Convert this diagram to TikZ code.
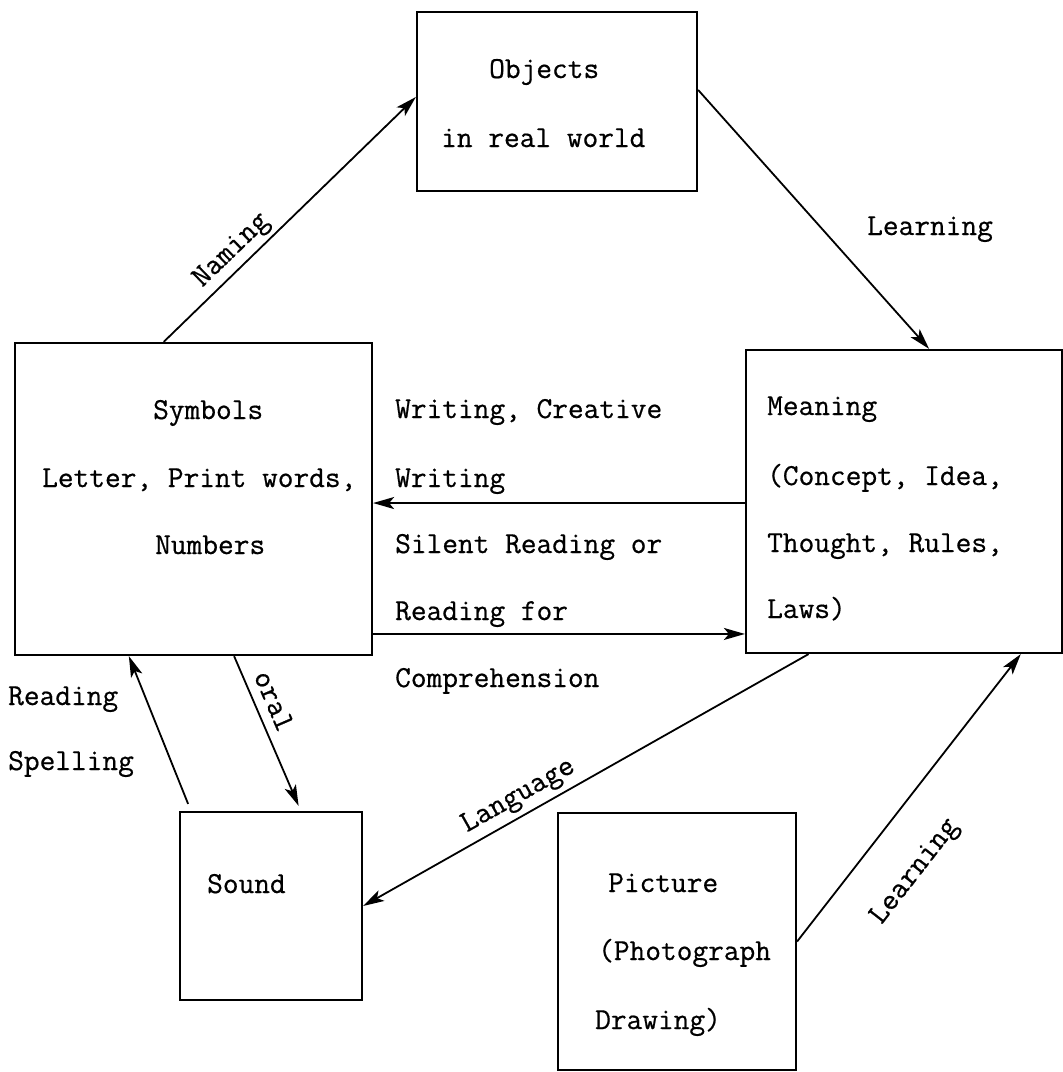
\documentclass[tikz,border=0pt]{standalone}
\usepackage{fontspec}
\setmonofont{Latin Modern Mono}[FakeBold=0.6]
\usetikzlibrary{calc,arrows.meta}
\begin{document}
\begin{tikzpicture}[x=1pt,y=-1pt,
  box/.style={draw, line width=2.2pt, inner sep=0pt},
  txt/.style={font=\ttfamily\fontsize{30.5}{34}\selectfont, anchor=base west, inner sep=0pt},
  lbl/.style={font=\ttfamily\fontsize{30.5}{34}\selectfont, inner sep=1pt},
  arr/.style={line width=1.8pt, -{Stealth[length=21pt,width=12pt,inset=5pt]}},
  rarr/.style={line width=1.8pt, {Stealth[length=21pt,width=12pt,inset=5pt]}-}]
\useasboundingbox (0,0) rectangle (1063,1072);

% boxes
\node[box, minimum width=280pt, minimum height=179pt] (objects) at (557,101.5) {};
\node[box, minimum width=357pt, minimum height=312pt] (symbols) at (193.5,499) {};
\node[box, minimum width=316pt, minimum height=303pt] (meaning) at (904,501.5) {};
\node[box, minimum width=182pt, minimum height=188pt] (sound) at (271,906) {};
\node[box, minimum width=238pt, minimum height=257pt] (picture) at (677,941.5) {};

% texts in boxes
\node[txt] (ob1) at (489,78) {Objects};
\node[txt] (ob2) at (441,147) {in real world};
\node[txt] (sy1) at (153,419) {Symbols};
\node[txt] (sy2) at (42,487) {Letter, Print words,};
\node[txt] (sy3) at (155,554) {Numbers};
\node[txt] (me1) at (767,415) {Meaning};
\node[txt] (me2) at (767,485) {(Concept, Idea,};
\node[txt] (me3) at (767,552) {Thought, Rules,};
\node[txt] (me4) at (767,618) {Laws)};
\node[txt] (so1) at (207,893) {Sound};
\node[txt] (pi1) at (608,892) {Picture};
\node[txt] (pi2) at (598,960) {(Photograph};
\node[txt] (pi3) at (595,1029) {Drawing)};

% free labels
\node[txt] (wr1) at (395,418) {Writing, Creative};
\node[txt] (wr2) at (395,487) {Writing};
\node[txt] (rd1) at (395,553) {Silent Reading or};
\node[txt] (rd2) at (395,620) {Reading for};
\node[txt] (rd3) at (395,687) {Comprehension};
\node[txt] (rs1) at (8,705) {Reading};
\node[txt] (rs2) at (8,770) {Spelling};
\node[txt] (lr1) at (867,235) {Learning};

% connection points
\coordinate (mw1) at ($(meaning.north west)!0.505!(meaning.south west)$);
\coordinate (mw2) at ($(meaning.north west)!0.934!(meaning.south west)$);

% connectors
\draw[arr] ($(symbols.north west)!0.417!(symbols.north east)$) --
  ($(objects.north west)!0.475!(objects.south west)$)
  node[lbl, pos=0.32, sloped, above=3pt] {Naming};
\draw[arr] ($(objects.north east)!0.436!(objects.south east)$) --
  ($(meaning.north west)!0.579!(meaning.north east)$);
\draw[arr] (mw1) -- (mw1 -| symbols.east);
\draw[arr] (mw2 -| symbols.east) -- (mw2);
\draw[arr] ($(sound.north west)!0.05!(sound.north east)+(0,-7)$) --
  ($(symbols.south west)!0.32!(symbols.south east)$);
\draw[arr] ($(symbols.south west)!0.613!(symbols.south east)$) --
  ($(sound.north west)!0.65!(sound.north east)+(0,-5)$)
  node[lbl, pos=0.35, sloped, above=8pt] {oral};
\draw[rarr] (sound.east) --
  ($(meaning.south west)!0.2!(meaning.south east)$)
  node[lbl, pos=0.37, sloped, above=4pt] {Language};
\draw[arr] (picture.east) --
  ($(meaning.south west)!0.867!(meaning.south east)$)
  node[lbl, pos=0.35, sloped, below=36pt] {Learning};
\end{tikzpicture}
\end{document}
